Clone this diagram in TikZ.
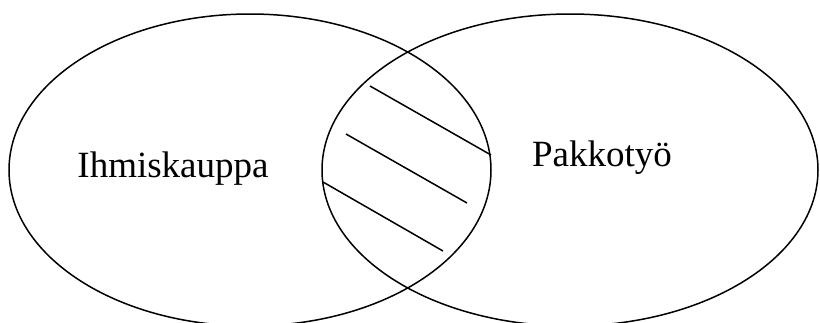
\documentclass[tikz,border=0pt]{standalone}
\usepackage{fontspec}
\setmainfont{Liberation Serif}
\usepackage{tikz}
\usetikzlibrary{shapes.geometric}
\tikzset{
    setoval/.style={ellipse, draw, line width=1.5pt, minimum width=482pt, minimum height=312pt, inner sep=0pt},
    setlabel/.style={anchor=base, inner sep=0pt, font=\fontsize{37}{42}\selectfont},
    hatch/.style={line width=1.5pt},
}

\begin{document}
\begin{tikzpicture}[x=1pt, y=-1pt]
    \useasboundingbox (0,0) rectangle (820,322);
    \node[setoval] (left) at (250,170) {};
    \node[setoval, minimum width=496pt] (right) at (570,170) {};
    \node[setlabel] (ihmis) at (173,177) {Ihmiskauppa};
    \node[setlabel] (pakko) at (602,166) {Pakkotyö};

    \draw[hatch] (370,86) -- (491,155);
    \draw[hatch] (346,134) -- (467,203);
    \draw[hatch] (323,182) -- (443,251);
\end{tikzpicture}
\end{document}
